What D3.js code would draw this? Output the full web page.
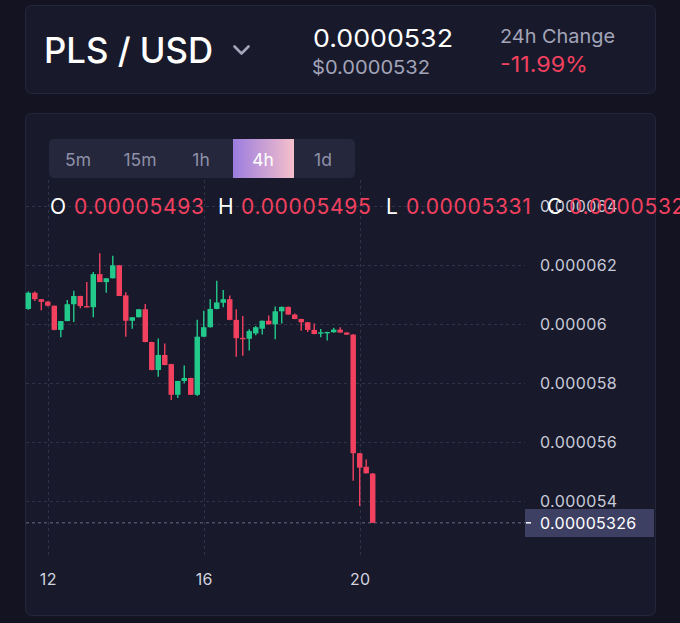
<!DOCTYPE html>
<html><head><meta charset="utf-8">
<script src="https://cdn.jsdelivr.net/npm/d3@7/dist/d3.min.js"></script>
<style>
html,body{margin:0;padding:0;background:#131321;}
svg{display:block;font-family:Inter,"Noto Sans",sans-serif;}
</style></head>
<body><svg id="c" width="680" height="623"></svg>
<script>
// ---- data (4h candles, starting day 11 12:00) ----
const opens = [60.51e-6,61.06e-6,60.84e-6,60.76e-6,60.62e-6,59.80e-6,60.10e-6,60.67e-6,60.95e-6,60.61e-6,
  60.57e-6,61.69e-6,61.42e-6,61.55e-6,61.99e-6,60.97e-6,60.11e-6,60.23e-6,60.50e-6,59.39e-6,
  58.44e-6,58.95e-6,58.64e-6,57.60e-6,58.07e-6,58.17e-6,57.60e-6,59.57e-6,59.89e-6,60.51e-6,
  60.72e-6,60.84e-6,60.14e-6,59.53e-6,59.50e-6,59.68e-6,59.84e-6,60.11e-6,59.99e-6,60.43e-6,
  60.58e-6,60.32e-6,60.17e-6,60.06e-6,59.80e-6,59.68e-6,59.71e-6,59.72e-6,59.81e-6,59.71e-6,
  59.64e-6,55.62e-6,55.16e-6,54.93e-6];
const highs = [61.10e-6,61.10e-6,60.85e-6,60.77e-6,60.63e-6,60.10e-6,60.81e-6,61.13e-6,60.96e-6,61.42e-6,
  61.76e-6,62.40e-6,61.55e-6,62.31e-6,62.00e-6,61.08e-6,60.23e-6,60.50e-6,60.68e-6,59.40e-6,
  59.51e-6,59.34e-6,58.65e-6,58.07e-6,58.59e-6,58.18e-6,60.14e-6,60.45e-6,60.84e-6,61.47e-6,
  61.15e-6,60.97e-6,60.50e-6,60.27e-6,59.82e-6,59.93e-6,60.12e-6,60.29e-6,60.59e-6,60.59e-6,
  60.59e-6,60.36e-6,60.18e-6,60.07e-6,60.02e-6,59.83e-6,59.74e-6,59.87e-6,59.89e-6,59.72e-6,
  59.66e-6,55.63e-6,55.41e-6,54.95e-6];
const lows = [60.48e-6,60.78e-6,60.47e-6,60.59e-6,59.79e-6,59.55e-6,60.09e-6,60.07e-6,60.53e-6,60.56e-6,
  60.23e-6,61.42e-6,61.06e-6,61.54e-6,60.95e-6,59.57e-6,59.84e-6,60.22e-6,59.38e-6,58.43e-6,
  58.21e-6,58.60e-6,57.42e-6,57.49e-6,57.99e-6,57.60e-6,57.56e-6,59.56e-6,59.88e-6,60.50e-6,
  60.57e-6,60.13e-6,58.89e-6,58.92e-6,59.10e-6,59.62e-6,59.64e-6,59.98e-6,59.48e-6,60.02e-6,
  60.31e-6,60.16e-6,59.77e-6,59.73e-6,59.65e-6,59.55e-6,59.44e-6,59.70e-6,59.70e-6,59.63e-6,
  54.69e-6,53.83e-6,54.93e-6,53.26e-6];
const closes = [61.06e-6,60.84e-6,60.75e-6,60.62e-6,59.80e-6,60.10e-6,60.67e-6,60.95e-6,60.61e-6,60.57e-6,
  61.69e-6,61.42e-6,61.55e-6,61.99e-6,60.95e-6,60.11e-6,60.23e-6,60.50e-6,59.39e-6,58.44e-6,
  58.95e-6,58.61e-6,57.60e-6,58.07e-6,58.17e-6,57.60e-6,59.57e-6,59.89e-6,60.51e-6,60.73e-6,
  60.84e-6,60.14e-6,59.52e-6,59.50e-6,59.76e-6,59.89e-6,60.11e-6,59.99e-6,60.43e-6,60.58e-6,
  60.32e-6,60.17e-6,60.06e-6,59.80e-6,59.66e-6,59.72e-6,59.73e-6,59.81e-6,59.71e-6,59.64e-6,
  55.62e-6,55.13e-6,54.94e-6,53.26e-6];
const startTime = Date.UTC(2024, 8, 11, 12);
const stepHours = 4;
const yTickValues = [54e-6, 56e-6, 58e-6, 60e-6, 62e-6, 64e-6];
const yTickLabels = ["0.000054","0.000056","0.000058","0.00006","0.000062","0.000064"];
const xTickDays = [12, 16, 20];
const intervals = ["5m","15m","1h","4h","1d"];
const activeInterval = "4h";
const pair = "PLS / USD";
const lastPrice = "0.0000532";
const lastPriceUsd = "$0.0000532";
const change24h = "-11.99%";
const ohlcLabels = ["O","H","L","C"];
const ohlcValues = ["0.00005493","0.00005495","0.00005331","0.00005326"];
const currentPrice = 0.00005326;
const currentPriceLabel = "0.00005326";

// ---- colours ----
const UP = "#22c98b", DOWN = "#f2405f";
const svg = d3.select("#c");
const defs = svg.append("defs");
const grad = defs.append("linearGradient").attr("id","act").attr("x1","0").attr("x2","1");
grad.append("stop").attr("offset","0").attr("stop-color","#9b7ddf");
grad.append("stop").attr("offset","1").attr("stop-color","#f5bfcb");

svg.append("rect").attr("width",680).attr("height",623).attr("fill","#131321");
// cards
svg.append("rect").attr("x",25.5).attr("y",5.5).attr("width",630).attr("height",88).attr("rx",6)
  .attr("fill","#181a2c").attr("stroke","#24263b");
svg.append("rect").attr("x",25.5).attr("y",113.5).attr("width",630).attr("height",502).attr("rx",6)
  .attr("fill","#181a2c").attr("stroke","#24263b");

// header
svg.append("text").attr("x",44).attr("y",63).attr("fill","#ffffff").attr("font-size",35).attr("font-weight",500)
  .attr("textLength",169).attr("lengthAdjust","spacingAndGlyphs").text(pair);
svg.append("path").attr("d","M234.5,46.5 L241.5,53.5 L248.5,46.5").attr("fill","none")
  .attr("stroke","#a4a5b8").attr("stroke-width",2.6).attr("stroke-linecap","round").attr("stroke-linejoin","round");
svg.append("text").attr("x",313).attr("y",47).attr("fill","#ffffff").attr("font-size",24)
  .attr("textLength",140).attr("lengthAdjust","spacingAndGlyphs").text(lastPrice);
svg.append("text").attr("x",312).attr("y",74).attr("fill","#a3a4b8").attr("font-size",19)
  .attr("textLength",118).attr("lengthAdjust","spacingAndGlyphs").text(lastPriceUsd);
svg.append("text").attr("x",500).attr("y",43).attr("fill","#a3a4b8").attr("font-size",19)
  .attr("textLength",115).attr("lengthAdjust","spacingAndGlyphs").text("24h Change");
svg.append("text").attr("x",500).attr("y",72).attr("fill",DOWN).attr("font-size",22)
  .attr("textLength",88).attr("lengthAdjust","spacingAndGlyphs").text(change24h);

// ---- scales ----
const times = opens.map((_, i) => new Date(startTime + i * stepHours * 3600e3));
const x = d3.scaleTime().domain([times[0], times[times.length-1]]).range([28.3, 372.7]);
const y = d3.scaleLinear().domain([54e-6, 64e-6]).range([501, 206]);
const step = x(times[1]) - x(times[0]);
const bodyW = step * 0.84;

// grid
const grid = svg.append("g").attr("stroke","#30324a").attr("stroke-dasharray","3,3").attr("stroke-width",1);
grid.selectAll("line.h").data(yTickValues).join("line").attr("class","h")
  .attr("x1",26).attr("x2",525).attr("y1",d=>Math.round(y(d))+0.5).attr("y2",d=>Math.round(y(d))+0.5);
const xTicks = xTickDays.map(d => new Date(Date.UTC(2024, 8, d)));
grid.selectAll("line.v").data(xTicks).join("line").attr("class","v")
  .attr("y1",180).attr("y2",558).attr("x1",d=>Math.round(x(d))+0.5).attr("x2",d=>Math.round(x(d))+0.5);

// current price line
svg.append("line").attr("x1",26).attr("x2",525).attr("y1",y(currentPrice)).attr("y2",y(currentPrice))
  .attr("stroke","#6a6c84").attr("stroke-dasharray","3,3");

// y axis labels via d3 axis
const yAxis = d3.axisRight(y).tickValues(yTickValues).tickSize(0).tickPadding(0)
  .tickFormat((d,i)=>yTickLabels[i]);
const ya = svg.append("g").attr("transform","translate(540,0)").call(yAxis);
ya.select(".domain").remove();
ya.selectAll("text").attr("fill","#c9cad8").attr("font-size",16).attr("letter-spacing",0.4)
  .attr("font-family","Inter,sans-serif");

// x axis labels
const xAxis = d3.axisBottom(x).tickValues(xTicks).tickSize(0).tickPadding(0).tickFormat(d3.utcFormat("%-d"));
const xa = svg.append("g").attr("transform","translate(0,574)").call(xAxis);
xa.select(".domain").remove();
xa.selectAll("text").attr("fill","#d2d3de").attr("font-size",16).attr("letter-spacing",0.3)
  .attr("font-family","Inter,sans-serif");

// candles
const candles = svg.append("g");
const idx = d3.range(opens.length);
candles.selectAll("line").data(idx).join("line")
  .attr("x1",i=>x(times[i])).attr("x2",i=>x(times[i]))
  .attr("y1",i=>y(highs[i])).attr("y2",i=>y(lows[i]))
  .attr("stroke",i=>closes[i]>=opens[i]?UP:DOWN).attr("stroke-width",1.4);
candles.selectAll("rect").data(idx).join("rect")
  .attr("x",i=>x(times[i])-bodyW/2).attr("width",bodyW)
  .attr("y",i=>y(Math.max(opens[i],closes[i])))
  .attr("height",i=>Math.max(1.4, Math.abs(y(opens[i])-y(closes[i]))))
  .attr("fill",i=>closes[i]>=opens[i]?UP:DOWN);

// current price badge
svg.append("rect").attr("x",525).attr("y",509).attr("width",129).attr("height",28).attr("fill","#3d4063");
svg.append("line").attr("x1",526).attr("x2",531).attr("y1",y(currentPrice)).attr("y2",y(currentPrice))
  .attr("stroke","#ffffff").attr("stroke-width",1.5);
svg.append("text").attr("x",540).attr("y",y(currentPrice)+6).attr("fill","#ffffff").attr("font-size",16)
  .attr("letter-spacing",0.3).text(currentPriceLabel);

// interval buttons
svg.append("rect").attr("x",49).attr("y",139).attr("width",306).attr("height",39).attr("rx",5).attr("fill","#25273c");
const btnCenters = [78,140,201,263,323];
svg.append("rect").attr("x",233).attr("y",139).attr("width",61).attr("height",39).attr("fill","url(#act)");
svg.selectAll("text.btn").data(intervals).join("text").attr("class","btn")
  .attr("x",(d,i)=>btnCenters[i]).attr("y",166).attr("text-anchor","middle").attr("font-size",17.5)
  .attr("fill",d=>d===activeInterval?"#ffffff":"#8e90a7").text(d=>d);

// OHLC row
const labX = [50,218,386,547];
const valX = [74,241,406,569];
ohlcLabels.forEach((l,i)=>{
  svg.append("text").attr("x",labX[i]).attr("y",214).attr("fill","#ffffff").attr("font-size",21).text(l);
  svg.append("text").attr("x",valX[i]).attr("y",214).attr("fill",DOWN).attr("font-size",21)
    .attr("letter-spacing",0.7).text(ohlcValues[i]);
});
</script></body></html>
